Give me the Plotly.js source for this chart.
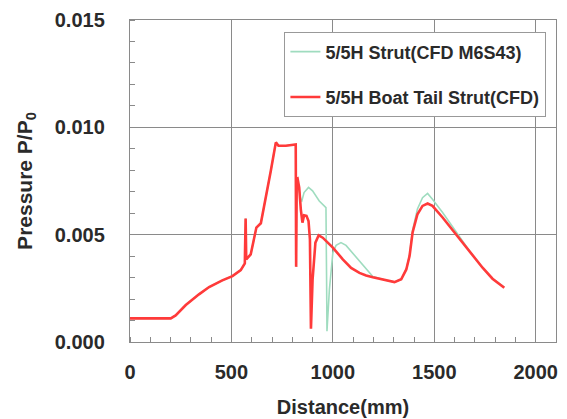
<!DOCTYPE html>
<html>
<head>
<meta charset="utf-8">
<script src="https://cdn.plot.ly/plotly-3.0.1.min.js"></script>
<style>html,body{margin:0;padding:0;background:#fff;}#chart{width:567px;height:419px;}</style>
</head>
<body>
<div id="chart"></div>
<script>
// Shared upstream part (both series coincide here)
const commonX = [0, 100, 201, 225, 275, 340, 390, 455, 505, 546, 566, 570, 573, 595, 612, 623, 645, 669, 694, 719, 732, 768, 814, 817, 819, 822];
const commonY = [0.0011, 0.0011, 0.0011, 0.00124, 0.00172, 0.00222, 0.00256, 0.00287, 0.00307, 0.00335, 0.00366, 0.00575, 0.00385, 0.00408, 0.00478, 0.00533, 0.00553, 0.00665, 0.00797, 0.0093, 0.00914, 0.00914, 0.0092, 0.0092, 0.0035, 0.0076];

// 5/5H Boat Tail Strut (CFD) – downstream part
const boatX = [826, 834, 842, 850, 858, 870, 880, 887, 892, 900, 914, 930, 950, 1000, 1049, 1090, 1131, 1164, 1197, 1263, 1304, 1337, 1362, 1378, 1393, 1417, 1442, 1467, 1491, 1541, 1607, 1672, 1738, 1787, 1845];
const boatY = [0.00762, 0.0072, 0.00618, 0.00556, 0.0059, 0.00588, 0.00564, 0.00478, 0.00062, 0.0029, 0.00463, 0.00497, 0.00486, 0.0044, 0.00385, 0.00345, 0.00322, 0.0031, 0.00302, 0.00288, 0.00279, 0.00292, 0.00338, 0.004, 0.0051, 0.00595, 0.00634, 0.00645, 0.00634, 0.0058, 0.00502, 0.00424, 0.00346, 0.00295, 0.00253];

// 5/5H Strut (CFD M6S43) – downstream part
const strutX = [826, 834, 842, 847, 858, 880, 900, 933, 966, 969, 971, 983, 1000, 1016, 1040, 1065, 1115, 1164, 1197, 1263, 1304, 1337, 1362, 1378, 1393, 1417, 1442, 1467, 1491, 1541, 1607, 1672, 1738, 1787, 1845];
const strutY = [0.00762, 0.0072, 0.0066, 0.00657, 0.00696, 0.0072, 0.00704, 0.00657, 0.00626, 0.003, 0.0005, 0.00245, 0.00416, 0.0045, 0.00463, 0.0045, 0.00393, 0.00338, 0.00305, 0.00288, 0.00279, 0.00292, 0.00338, 0.00405, 0.0052, 0.0062, 0.00672, 0.00692, 0.00665, 0.00603, 0.00513, 0.00426, 0.00346, 0.00295, 0.00255];

const seriesNames = ["5/5H Strut(CFD M6S43)", "5/5H Boat Tail Strut(CFD)"];
const xTicks = [0, 500, 1000, 1500, 2000];
const yTicks = [0, 0.005, 0.010, 0.015];
const yTickText = ["0.000", "0.005", "0.010", "0.015"];

const font = "Liberation Sans, Arial, sans-serif";
const ink = "#2a2a2a";

const traces = [
  {x: commonX.concat(strutX), y: commonY.concat(strutY), name: seriesNames[0], legendgroup: "a",
   mode: "lines", line: {color: "#9fdcbf", width: 1.6}},
  {x: commonX.concat(boatX), y: commonY.concat(boatY), name: seriesNames[1], legendgroup: "b",
   mode: "lines", line: {color: "#ff3a3a", width: 2.6}}
];

const layout = {
  width: 567, height: 419,
  margin: {l: 130, r: 11, t: 20, b: 77},
  paper_bgcolor: "#fff", plot_bgcolor: "#fff",
  font: {family: font, color: ink, size: 18},
  showlegend: true,
  legend: {x: 0.362, y: 0.962, xanchor: "left", yanchor: "top",
    bordercolor: "#999", borderwidth: 1.2, bgcolor: "#fff",
    font: {family: font, size: 18, color: ink, weight: "bold"},
    tracegroupgap: 19, traceorder: "grouped", itemwidth: 30},
  xaxis: {
    range: [0, 2100], tickvals: xTicks, ticktext: xTicks.map(String),
    showgrid: true, gridcolor: "#8a8a8a", gridwidth: 1,
    showline: true, linecolor: "#8a8a8a", linewidth: 1.2, mirror: true,
    ticks: "", zeroline: false, ticklabelstandoff: 12,
    tickfont: {family: font, size: 20, color: ink, weight: "bold"},
    minor: {dtick: 100, ticks: "inside", ticklen: 5, tickcolor: "#8a8a8a", showgrid: false},
    title: {text: "Distance(mm)", font: {family: font, size: 20, color: ink, weight: "bold"}, standoff: 17}
  },
  yaxis: {
    range: [0, 0.015], tickvals: yTicks, ticktext: yTickText,
    showgrid: true, gridcolor: "#8a8a8a", gridwidth: 1,
    showline: true, linecolor: "#8a8a8a", linewidth: 1.2, mirror: true,
    ticks: "", zeroline: false, ticklabelstandoff: 20,
    tickfont: {family: font, size: 20, color: ink, weight: "bold"},
    minor: {dtick: 0.001, ticks: "inside", ticklen: 5, tickcolor: "#8a8a8a", showgrid: false},
    title: {text: "Pressure P/P<sub>0</sub>", font: {family: font, size: 21, color: ink, weight: "bold"}, standoff: 16}
  }
};

Plotly.newPlot("chart", traces, layout, {staticPlot: true, displayModeBar: false});
</script>
</body>
</html>
